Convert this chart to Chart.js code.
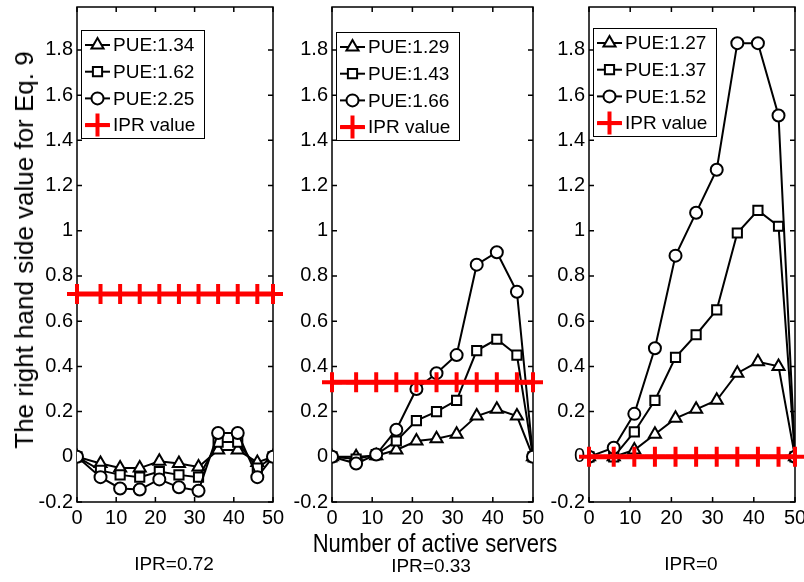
<!DOCTYPE html>
<html>
<head>
<meta charset="utf-8">
<script src="https://cdn.jsdelivr.net/npm/chart.js@4.4.1/dist/chart.umd.min.js"></script>
<style>
  html, body { margin: 0; padding: 0; background: #fff; width: 804px; height: 582px; overflow: hidden; position: relative; font-family: "Liberation Sans", Arial, sans-serif; }
  canvas { position: absolute; top: -9px; }
  .lbl { position: absolute; white-space: nowrap; color: #000; line-height: 1; }
</style>
</head>
<body>
<canvas id="c1" width="290" height="591" style="left:0px"></canvas>
<canvas id="c2" width="270" height="591" style="left:280px"></canvas>
<canvas id="c3" width="280" height="591" style="left:540px"></canvas>

<div class="lbl" id="ylab" style="font-size:26px; left:24px; top:250px; transform: translate(-50%,-50%) rotate(-90deg);">The right hand side value for Eq. 9</div>
<div class="lbl" id="xlab" style="font-size:25px; left:435px; top:531px; transform: translateX(-50%) scaleX(0.88);">Number of active servers</div>
<div class="lbl" style="font-size:19px; left:174px; top:554px; transform: translateX(-50%);">IPR=0.72</div>
<div class="lbl" style="font-size:19px; left:431px; top:556px; transform: translateX(-50%);">IPR=0.33</div>
<div class="lbl" style="font-size:19px; left:691px; top:554px; transform: translateX(-50%);">IPR=0</div>

<script>
// valeurs
const xVals = [0, 6, 11, 16, 21, 26, 31, 36, 41, 46, 50];
const xTicks = [0, 10, 20, 30, 40, 50];
const yTicks = [-0.2, 0, 0.2, 0.4, 0.6, 0.8, 1, 1.2, 1.4, 1.6, 1.8];
const yTickLabels = ['-0.2', '0', '0.2', '0.4', '0.6', '0.8', '1', '1.2', '1.4', '1.6', '1.8'];

// panneau 1 : IPR = 0.72
const pue1 = ['1.34', '1.62', '2.25'];
const tri1 = [0, -0.03, -0.05, -0.05, -0.02, -0.03, -0.045, 0.03, 0.03, -0.025, 0];
const sq1 = [0, -0.06, -0.08, -0.09, -0.065, -0.08, -0.09, 0.065, 0.065, -0.05, 0];
const circ1 = [0, -0.09, -0.14, -0.145, -0.10, -0.135, -0.15, 0.105, 0.105, -0.09, 0];

// panneau 2 : IPR = 0.33
const pue2 = ['1.29', '1.43', '1.66'];
const tri2 = [0, 0, 0.005, 0.03, 0.07, 0.08, 0.10, 0.18, 0.21, 0.18, 0];
const sq2 = [0, -0.01, 0.01, 0.07, 0.16, 0.20, 0.25, 0.47, 0.52, 0.45, 0];
const circ2 = [0, -0.03, 0.01, 0.12, 0.30, 0.37, 0.45, 0.85, 0.905, 0.73, 0];

// panneau 3 : IPR = 0
const pue3 = ['1.27', '1.37', '1.52'];
const tri3 = [0, 0, 0.03, 0.10, 0.17, 0.21, 0.25, 0.37, 0.42, 0.40, 0];
const sq3 = [0, 0, 0.11, 0.25, 0.44, 0.54, 0.65, 0.99, 1.09, 1.02, 0];
const circ3 = [0, 0.04, 0.19, 0.48, 0.89, 1.08, 1.27, 1.83, 1.83, 1.51, 0];

const iprValues = [0.72, 0.33, 0];

Chart.defaults.font.family = '"Liberation Sans", Arial, sans-serif';
Chart.defaults.color = '#000';

// cadre façon MATLAB avec graduations vers l'intérieur
const boxPlugin = {
  id: 'matlabBox',
  beforeDatasetsDraw(chart) {
    const {ctx, chartArea: a, scales: {x, y}} = chart;
    ctx.save();
    ctx.strokeStyle = '#000';
    ctx.lineWidth = 1.5;
    ctx.strokeRect(a.left, a.top, a.right - a.left, a.bottom - a.top);
    ctx.beginPath();
    xTicks.forEach(v => {
      const px = x.getPixelForValue(v);
      ctx.moveTo(px, a.bottom); ctx.lineTo(px, a.bottom - 5);
      ctx.moveTo(px, a.top); ctx.lineTo(px, a.top + 5);
    });
    yTicks.forEach(v => {
      const py = y.getPixelForValue(v);
      ctx.moveTo(a.left, py); ctx.lineTo(a.left + 5, py);
      ctx.moveTo(a.right, py); ctx.lineTo(a.right - 5, py);
    });
    ctx.stroke();
    ctx.restore();
  }
};

// légende dans le coin haut gauche
const legendPlugin = {
  id: 'boxLegend',
  afterDraw(chart, args, opts) {
    const {ctx, chartArea: a} = chart;
    const left = a.left + 4, top = opts.top, w = 123, h = 108;
    ctx.save();
    ctx.fillStyle = '#fff';
    ctx.fillRect(left, top, w, h);
    ctx.strokeStyle = '#000';
    ctx.lineWidth = 1;
    ctx.strokeRect(Math.round(left) + 0.5, top + 0.5, w, h);
    chart.data.datasets.forEach((ds, i) => {
      const cy = top + 15 + i * 26.7;
      const cx = left + 16.5;
      ctx.strokeStyle = ds.borderColor;
      ctx.lineWidth = ds.pointStyle === 'cross' ? 4 : 2;
      ctx.beginPath();
      ctx.moveTo(left + 4, cy);
      ctx.lineTo(left + 29, cy);
      ctx.stroke();
      ctx.fillStyle = ds.pointBackgroundColor;
      ctx.lineWidth = ds.pointBorderWidth;
      Chart.helpers.drawPoint(ctx, {
        pointStyle: ds.pointStyle,
        radius: ds.pointStyle === 'cross' ? 11.5 : ds.pointRadius,
        rotation: 0,
        borderWidth: ds.pointBorderWidth
      }, cx, cy);
      ctx.fillStyle = '#000';
      ctx.font = '19px "Liberation Sans", Arial, sans-serif';
      ctx.textBaseline = 'middle';
      ctx.textAlign = 'left';
      ctx.fillText(ds.label, left + 32, cy + 1);
    });
    ctx.restore();
  }
};

const toPoints = (vals) => vals.map((v, i) => ({x: xVals[i], y: v}));

function blackSeries(label, vals, style, radius, order) {
  return {
    label: 'PUE:' + label,
    data: toPoints(vals),
    borderColor: '#000',
    borderWidth: 2,
    pointStyle: style,
    pointRadius: radius,
    pointBorderWidth: 2,
    pointBorderColor: '#000',
    pointBackgroundColor: '#fff',
    tension: 0,
    order: order
  };
}

function makePanel(id, pue, tri, sq, circ, ipr, axisWidth, padRight, legendTop) {
  const iprLine = xVals.map(() => ipr);
  new Chart(document.getElementById(id), {
    type: 'line',
    data: {
      datasets: [
        blackSeries(pue[0], tri, 'triangle', 7, 3),
        blackSeries(pue[1], sq, 'rect', 6.5, 2),
        blackSeries(pue[2], circ, 'circle', 6, 1),
        {
          label: 'IPR value',
          data: toPoints(iprLine),
          borderColor: '#ff0000',
          borderWidth: 5,
          pointStyle: 'cross',
          pointRadius: 10,
          pointBorderWidth: 4,
          pointBorderColor: '#ff0000',
          pointBackgroundColor: '#ff0000',
          clip: false,
          order: 0
        }
      ]
    },
    options: {
      responsive: false,
      animation: false,
      events: [],
      layout: {padding: {left: 0, right: padRight, top: 0, bottom: 40}},
      plugins: {
        legend: {display: false},
        tooltip: {enabled: false},
        boxLegend: {top: legendTop + 9}
      },
      scales: {
        x: {
          type: 'linear',
          min: 0,
          max: 50,
          grid: {display: false, drawTicks: false},
          border: {display: false},
          ticks: {font: {size: 20}, padding: 4, maxRotation: 0},
          afterBuildTicks: (s) => { s.ticks = xTicks.map(v => ({value: v})); },
          afterFit: (s) => { s.height = 40; s.paddingLeft = 0; s.paddingRight = 0; }
        },
        y: {
          type: 'linear',
          min: -0.2,
          max: 1.99,
          grid: {display: false, drawTicks: false},
          border: {display: false},
          ticks: {
            font: {size: 20},
            padding: 4,
            callback: (v, i) => yTickLabels[i]
          },
          afterBuildTicks: (s) => { s.ticks = yTicks.map(v => ({value: v})); },
          afterFit: (s) => { s.width = axisWidth; }
        }
      }
    },
    plugins: [boxPlugin, legendPlugin]
  });
}

makePanel('c1', pue1, tri1, sq1, circ1, iprValues[0], 77, 17, 30);
makePanel('c2', pue2, tri2, sq2, circ2, iprValues[1], 52, 17, 32);
makePanel('c3', pue3, tri3, sq3, circ3, iprValues[2], 49, 25, 28);
</script>
</body>
</html>
